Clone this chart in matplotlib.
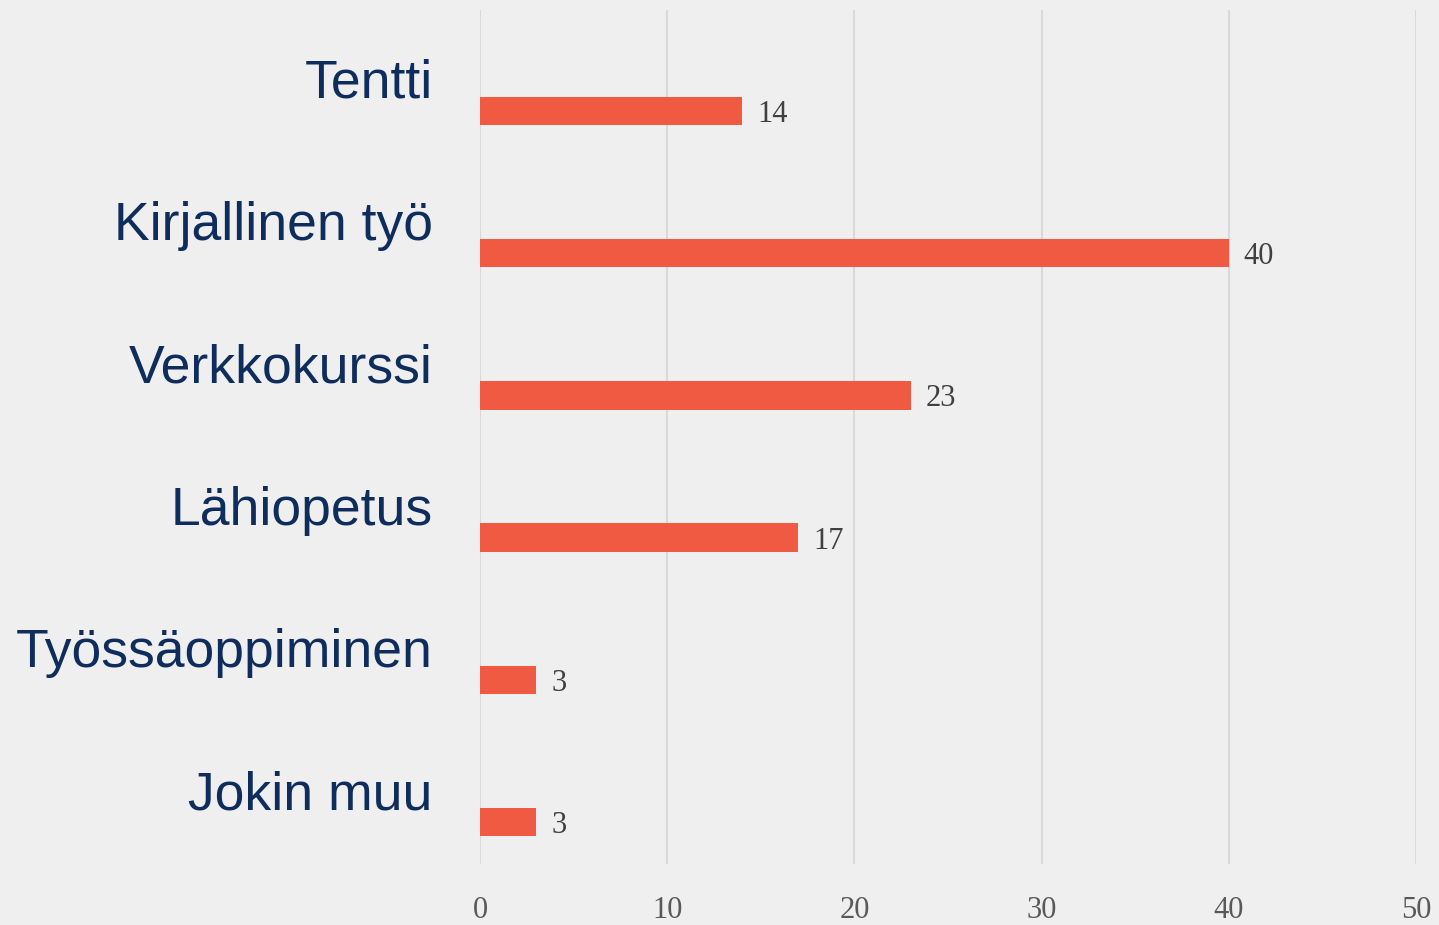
import matplotlib
matplotlib.use("Agg")
import matplotlib.pyplot as plt

categories = ["Tentti", "Kirjallinen työ", "Verkkokurssi", "Lähiopetus", "Työssäoppiminen", "Jokin muu"]
values = [14, 40, 23, 17, 3, 3]
xticks = [0, 10, 20, 30, 40, 50]

bg = "#EFEFEF"
fig = plt.figure(figsize=(14.39, 9.25), dpi=100, facecolor=bg)
ax = fig.add_axes([0.3336, 0.066, 0.6504, 0.923], facecolor=bg)

ypos = list(range(len(categories)))
ax.barh([y + 0.207 for y in ypos], values, height=0.2, color="#F15A42", zorder=3)
for y, v in zip(ypos, values):
    ax.text(v + 0.8, y + 0.207, str(v), va="center_baseline", ha="left",
            fontsize=22, family="Liberation Serif", color="#404040", zorder=4)

ax.set_ylim(len(categories) - 0.5, -0.5)
ax.set_xlim(0, 50)
ax.set_yticks([y - 0.02 for y in ypos])
ax.set_yticklabels(categories, fontsize=38.5, family="Liberation Sans", color="#0E2D5C")
ax.set_xticks(xticks)
ax.set_xticklabels([str(t) for t in xticks], fontsize=22, family="Liberation Serif", color="#595959")
ax.tick_params(axis="y", length=0, pad=34)
ax.tick_params(axis="x", length=0, pad=23)
ax.grid(axis="x", color="#D9D9D9", linewidth=1.5, zorder=0)
ax.grid(axis="y", visible=False)
for s in ax.spines.values():
    s.set_visible(False)

fig.savefig("out.png", dpi=100, facecolor=bg)
